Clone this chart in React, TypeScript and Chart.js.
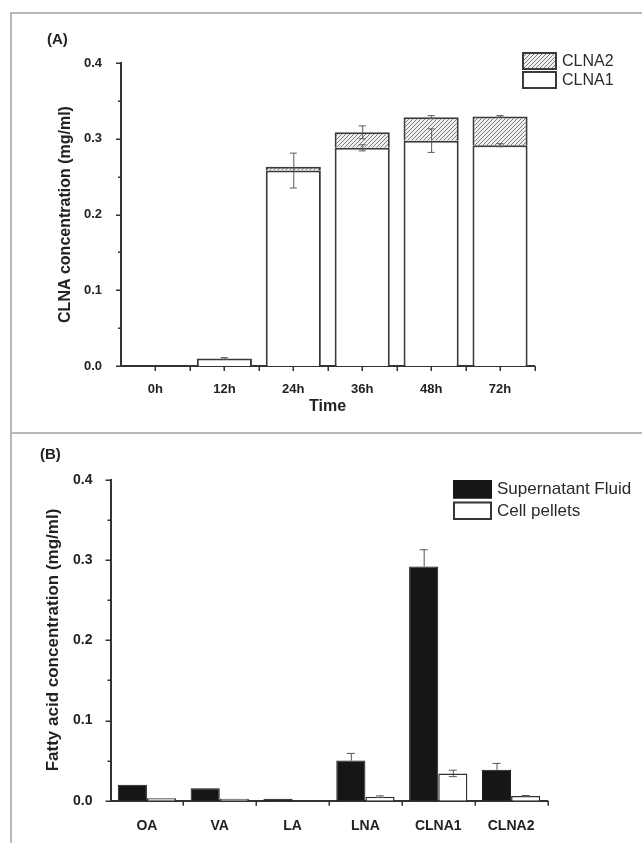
import React, { useEffect, useRef } from "react";
import { Chart, registerables } from "chart.js";

Chart.register(...registerables);

const FONT = "'Liberation Sans', Arial, Helvetica, sans-serif";
const INK = "#222222";
const AXIS = "#333333";

// ---------- Panel A data ----------
const timeLabels = ["0h", "12h", "24h", "36h", "48h", "72h"];
const clna1 = [0, 0.01, 0.258, 0.288, 0.2975, 0.2915];
const clna1Err = [0, 0.001, 0.023, 0.004, 0.0155, 0.002];
const clna2 = [0, 0, 0.005, 0.0205, 0.031, 0.038];
const clna2Err = [0, 0, 0, 0.0085, 0.002, 0.001];

// ---------- Panel B data ----------
const acidLabels = ["OA", "VA", "LA", "LNA", "CLNA1", "CLNA2"];
const supernatant = [0.02, 0.0155, 0.0025, 0.05, 0.292, 0.0385];
const supernatantErr = [0, 0, 0, 0.009, 0.021, 0.008];
const pellets = [0.003, 0.0025, 0, 0.005, 0.034, 0.006];
const pelletsErr = [0, 0, 0, 0.001, 0.004, 0.0005];

// ---------- shared axis ticks ----------
const yMajorTicks = [0, 0.1, 0.2, 0.3, 0.4];
const yMinorTicks = [0.05, 0.15, 0.25, 0.35];

function makeHatch(): CanvasPattern | string {
  const c = document.createElement("canvas");
  c.width = 4;
  c.height = 4;
  const g = c.getContext("2d");
  if (!g) return "#dddddd";
  g.fillStyle = "#f0f0f0";
  g.fillRect(0, 0, 4, 4);
  g.strokeStyle = "#7c7c7c";
  g.lineWidth = 1;
  g.beginPath();
  g.moveTo(0, 4);
  g.lineTo(4, 0);
  g.moveTo(-1, 1);
  g.lineTo(1, -1);
  g.moveTo(3, 5);
  g.lineTo(5, 3);
  g.stroke();
  return g.createPattern(c, "repeat") || "#dddddd";
}

type ErrSet = { dataset: number; err: number[]; color: string; upperOnly?: boolean; cap: number };

function errorBarPlugin(id: string, sets: ErrSet[]) {
  return {
    id,
    afterDatasetsDraw(chart: any) {
      const ctx = chart.ctx;
      const ys = chart.scales.y;
      ctx.save();
      sets.forEach((s) => {
        const meta = chart.getDatasetMeta(s.dataset);
        meta.data.forEach((el: any, i: number) => {
          const e = s.err[i];
          if (!e) return;
          const px = ys.getPixelForValue(0) - ys.getPixelForValue(e);
          const x = el.x;
          const y = el.y;
          const top = y - px;
          const bot = s.upperOnly ? y : y + px;
          ctx.strokeStyle = s.color;
          ctx.lineWidth = 1;
          ctx.beginPath();
          ctx.moveTo(x + 0.5, top);
          ctx.lineTo(x + 0.5, bot);
          ctx.moveTo(x - s.cap / 2, top);
          ctx.lineTo(x + s.cap / 2, top);
          if (!s.upperOnly) {
            ctx.moveTo(x - s.cap / 2, bot);
            ctx.lineTo(x + s.cap / 2, bot);
          }
          ctx.stroke();
        });
      });
      ctx.restore();
    },
  };
}

function axisTickPlugin(id: string, nCats: number, centerTicks: boolean) {
  return {
    id,
    afterDraw(chart: any) {
      const ctx = chart.ctx;
      const xs = chart.scales.x;
      const ys = chart.scales.y;
      const left = chart.chartArea.left;
      const bottom = chart.chartArea.bottom;
      ctx.save();
      ctx.strokeStyle = AXIS;
      ctx.lineWidth = 1.5;
      ctx.beginPath();
      yMajorTicks.forEach((v) => {
        const y = Math.round(ys.getPixelForValue(v)) + 0.25;
        ctx.moveTo(left - 5, y);
        ctx.lineTo(left, y);
      });
      yMinorTicks.forEach((v) => {
        const y = Math.round(ys.getPixelForValue(v)) + 0.25;
        ctx.moveTo(left - 3, y);
        ctx.lineTo(left, y);
      });
      for (let i = 1; i <= nCats; i++) {
        const x = Math.round(xs.getPixelForValue(i - 0.5)) + 0.25;
        ctx.moveTo(x, bottom);
        ctx.lineTo(x, bottom + 5);
      }
      if (centerTicks) {
        for (let i = 0; i < nCats; i++) {
          const x = Math.round(xs.getPixelForValue(i)) + 0.25;
          ctx.moveTo(x, bottom);
          ctx.lineTo(x, bottom + 5);
        }
      }
      ctx.stroke();
      ctx.restore();
    },
  };
}

type LegendItem = { label: string; fill: CanvasPattern | string; stroke: string; y: number; h: number };

function decorPlugin(
  id: string,
  panel: { text: string; x: number; y: number },
  yTitle: { text: string; x: number; y: number; size: number },
  xTitle: { text: string; x: number; y: number; size: number } | null,
  legend: { x: number; w: number; textX: number; size: number; items: LegendItem[] }
) {
  return {
    id,
    afterDraw(chart: any) {
      const ctx = chart.ctx;
      ctx.save();
      ctx.fillStyle = INK;
      ctx.font = `bold 15px ${FONT}`;
      ctx.textAlign = "left";
      ctx.textBaseline = "middle";
      ctx.fillText(panel.text, panel.x, panel.y);

      ctx.save();
      ctx.translate(yTitle.x, yTitle.y);
      ctx.rotate(-Math.PI / 2);
      ctx.textAlign = "center";
      ctx.font = `bold ${yTitle.size}px ${FONT}`;
      ctx.fillText(yTitle.text, 0, 0);
      ctx.restore();

      if (xTitle) {
        ctx.textAlign = "center";
        ctx.font = `bold ${xTitle.size}px ${FONT}`;
        ctx.fillText(xTitle.text, xTitle.x, xTitle.y);
      }

      legend.items.forEach((it) => {
        ctx.fillStyle = it.fill as any;
        ctx.fillRect(legend.x, it.y, legend.w, it.h);
        ctx.strokeStyle = it.stroke;
        ctx.lineWidth = 2;
        ctx.strokeRect(legend.x + 1, it.y + 1, legend.w - 2, it.h - 2);
        ctx.fillStyle = "#2a2a2a";
        ctx.font = `${legend.size}px ${FONT}`;
        ctx.textAlign = "left";
        ctx.textBaseline = "middle";
        ctx.fillText(it.label, legend.textX, it.y + it.h / 2 + 0.5);
      });
      ctx.restore();
    },
  };
}

function tickFont(size: number) {
  return { family: FONT, size, weight: "bold" as const };
}

function PanelA() {
  const ref = useRef<HTMLCanvasElement | null>(null);
  useEffect(() => {
    if (!ref.current) return;
    const hatch = makeHatch();
    const chart = new Chart(ref.current, {
      type: "bar",
      data: {
        labels: timeLabels,
        datasets: [
          {
            label: "CLNA1",
            data: clna1,
            backgroundColor: "#ffffff",
            borderColor: "#3a3a3a",
            borderWidth: 2,
            stack: "s",
          },
          {
            label: "CLNA2",
            data: clna2,
            backgroundColor: hatch as any,
            borderColor: "#3a3a3a",
            borderWidth: 2,
            stack: "s",
          },
        ],
      },
      options: {
        animation: false,
        responsive: false,
        devicePixelRatio: 1,
        layout: { padding: { left: 61, top: 63, right: 107.5, bottom: 37 } },
        datasets: { bar: { categoryPercentage: 0.8, barPercentage: 1 } },
        plugins: { legend: { display: false }, tooltip: { enabled: false } },
        scales: {
          x: {
            stacked: true,
            offset: true,
            grid: { display: false },
            border: { display: true, color: AXIS, width: 2 },
            ticks: { color: INK, font: tickFont(13), padding: 8, maxRotation: 0, autoSkip: false },
            afterFit: (s: any) => {
              s.height = 30;
            },
          },
          y: {
            stacked: true,
            min: 0,
            max: 0.4,
            grid: { display: false },
            border: { display: true, color: AXIS, width: 2 },
            ticks: {
              stepSize: 0.1,
              color: INK,
              font: tickFont(13),
              padding: 11,
              callback: (v: any) => Number(v).toFixed(1),
            },
            afterFit: (s: any) => {
              s.width = 60;
            },
          },
        },
      },
      plugins: [
        axisTickPlugin("ticksA", timeLabels.length, true),
        errorBarPlugin("errA", [
          { dataset: 0, err: clna1Err, color: "#5a5a5a", cap: 7 },
          { dataset: 1, err: clna2Err, color: "#5a5a5a", cap: 7 },
        ]),
        decorPlugin(
          "decorA",
          { text: "(A)", x: 47, y: 40 },
          { text: "CLNA concentration (mg/ml)", x: 65.5, y: 214.5, size: 16 },
          { text: "Time", x: 327.5, y: 407, size: 16 },
          {
            x: 522,
            w: 35,
            textX: 562,
            size: 16,
            items: [
              { label: "CLNA2", fill: hatch, stroke: "#3a3a3a", y: 52, h: 18 },
              { label: "CLNA1", fill: "#ffffff", stroke: "#3a3a3a", y: 71, h: 18 },
            ],
          }
        ),
      ],
    } as any);
    return () => chart.destroy();
  }, []);
  return (
    <canvas
      ref={ref}
      width={642}
      height={433}
      style={{ position: "absolute", left: 0, top: 0, width: 642, height: 433 }}
    />
  );
}

function PanelB() {
  const ref = useRef<HTMLCanvasElement | null>(null);
  useEffect(() => {
    if (!ref.current) return;
    const chart = new Chart(ref.current, {
      type: "bar",
      data: {
        labels: acidLabels,
        datasets: [
          {
            label: "Supernatant Fluid",
            data: supernatant,
            backgroundColor: "#161616",
            borderColor: "#161616",
            borderWidth: 1,
          },
          {
            label: "Cell pellets",
            data: pellets,
            backgroundColor: "#ffffff",
            borderColor: "#333333",
            borderWidth: 1.5,
          },
        ],
      },
      options: {
        animation: false,
        responsive: false,
        devicePixelRatio: 1,
        layout: { padding: { left: 50.5, top: 47, right: 94.5, bottom: 12.3 } },
        datasets: { bar: { categoryPercentage: 0.8, barPercentage: 1 } },
        plugins: { legend: { display: false }, tooltip: { enabled: false } },
        scales: {
          x: {
            offset: true,
            grid: { display: false },
            border: { display: true, color: AXIS, width: 2 },
            ticks: { color: INK, font: tickFont(14), padding: 9, maxRotation: 0, autoSkip: false },
            afterFit: (s: any) => {
              s.height = 30;
            },
          },
          y: {
            min: 0,
            max: 0.4,
            grid: { display: false },
            border: { display: true, color: AXIS, width: 2 },
            ticks: {
              stepSize: 0.1,
              color: INK,
              font: tickFont(14),
              padding: 10,
              callback: (v: any) => Number(v).toFixed(1),
            },
            afterFit: (s: any) => {
              s.width = 60;
            },
          },
        },
      },
      plugins: [
        axisTickPlugin("ticksB", acidLabels.length, false),
        errorBarPlugin("errB", [
          { dataset: 0, err: supernatantErr, color: "#555555", cap: 8, upperOnly: true },
          { dataset: 1, err: pelletsErr, color: "#555555", cap: 8 },
        ]),
        decorPlugin(
          "decorB",
          { text: "(B)", x: 40, y: 22 },
          { text: "Fatty acid concentration (mg/ml)", x: 53, y: 207, size: 17 },
          null,
          {
            x: 453,
            w: 39,
            textX: 497,
            size: 17,
            items: [
              { label: "Supernatant Fluid", fill: "#161616", stroke: "#161616", y: 47, h: 18.5 },
              { label: "Cell pellets", fill: "#ffffff", stroke: "#333333", y: 68.5, h: 18.5 },
            ],
          }
        ),
      ],
    } as any);
    return () => chart.destroy();
  }, []);
  return (
    <canvas
      ref={ref}
      width={642}
      height={410}
      style={{ position: "absolute", left: 0, top: 433, width: 642, height: 410 }}
    />
  );
}

export default function App() {
  const line = "#b8b8b8";
  return (
    <div
      style={{
        position: "absolute",
        left: 0,
        top: 0,
        width: 642,
        height: 843,
        background: "#ffffff",
        overflow: "hidden",
      }}
    >
      <PanelA />
      <PanelB />
      <div style={{ position: "absolute", left: 10, top: 12, width: 2, height: 831, background: line }} />
      <div style={{ position: "absolute", left: 10, top: 12, width: 632, height: 2, background: line }} />
      <div style={{ position: "absolute", left: 10, top: 432, width: 632, height: 2, background: line }} />
    </div>
  );
}
